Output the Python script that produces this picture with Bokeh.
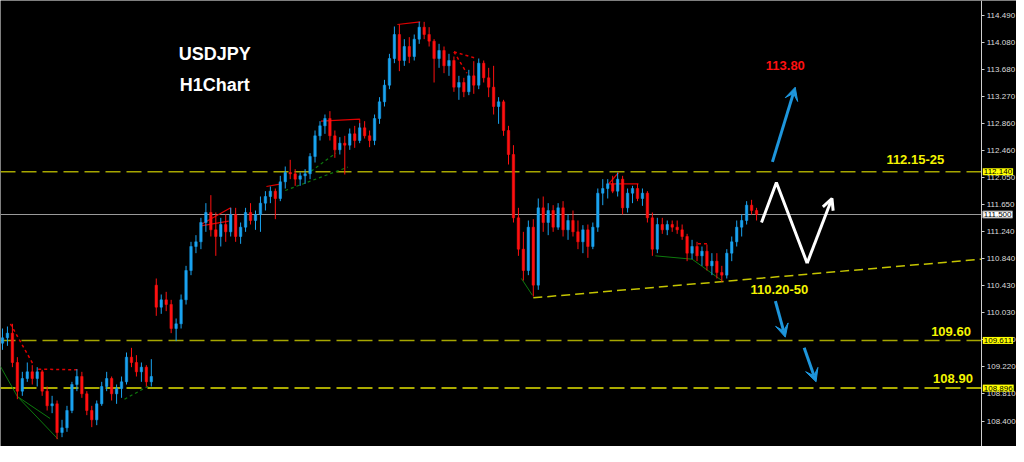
from bokeh.plotting import figure
from bokeh.models import (ColumnDataSource, Range1d, FixedTicker, Label, Arrow,
                          VeeHead, OpenHead, NumeralTickFormatter)
from bokeh.embed import file_html
from bokeh.resources import INLINE

# ---------------- data (USDJPY H1) ----------------
opens = [109.57, 109.65, 109.72, 109.28, 108.85, 109.04, 109.14, 109.04, 109.14, 108.85,
         108.63, 108.66, 108.23, 108.30, 108.56, 108.95, 109.07, 108.81, 108.56, 108.42,
         108.66, 108.92, 109.04, 108.81, 108.89, 108.99, 109.36, 109.28, 109.14, 109.21,
         108.99, 110.44, 110.11, 110.22, 110.15, 109.79, 109.86, 110.22, 110.66, 111.02,
         111.09, 111.38, 111.53, 111.27, 111.17, 111.35, 111.24, 111.50, 111.17, 111.31,
         111.53, 111.41, 111.50, 111.67, 111.77, 111.85, 111.74, 111.99, 112.13, 112.11,
         112.03, 112.08, 112.11, 112.37, 112.68, 112.83, 112.94, 112.68, 112.47, 112.57,
         112.54, 112.71, 112.61, 112.80, 112.68, 112.61, 112.94, 113.19, 113.44, 113.84,
         114.20, 113.81, 114.02, 113.87, 114.13, 114.31, 114.20, 114.10, 113.84, 113.96,
         113.73, 113.81, 113.41, 113.48, 113.34, 113.58, 113.44, 113.77, 113.55, 113.41,
         113.12, 113.19, 112.76, 112.40, 111.45, 110.98, 110.66, 111.31, 110.44, 111.60,
         111.38, 111.56, 111.31, 111.60, 111.27, 111.41, 111.24, 111.09, 111.27, 111.02,
         111.31, 111.82, 111.89, 111.96, 111.85, 112.03, 111.60, 111.82, 111.89, 111.74,
         111.82, 111.45, 110.98, 111.35, 111.27, 111.35, 111.31, 111.27, 111.17, 110.92,
         111.02, 110.88, 110.95, 110.73, 110.80, 110.63, 110.59, 110.92, 111.09, 111.31,
         111.41, 111.64, 111.56]
highs = [109.79, 109.82, 109.86, 109.36, 109.14, 109.28, 109.24, 109.21, 109.17, 108.92,
         108.78, 108.71, 108.42, 108.63, 108.99, 109.18, 109.14, 108.85, 108.63, 108.71,
         108.99, 109.14, 109.07, 108.95, 109.07, 109.43, 109.50, 109.39, 109.28, 109.24,
         109.33, 110.54, 110.30, 110.34, 110.22, 109.94, 110.30, 110.73, 111.09, 111.19,
         111.45, 111.67, 111.79, 111.53, 111.45, 111.50, 111.60, 111.60, 111.38, 111.60,
         111.67, 111.56, 111.77, 111.85, 111.92, 111.89, 112.08, 112.22, 112.32, 112.18,
         112.13, 112.18, 112.42, 112.76, 112.90, 113.00, 113.05, 112.76, 112.66, 112.68,
         112.79, 112.83, 112.87, 112.90, 112.76, 113.00, 113.26, 113.52, 113.91, 114.32,
         114.35, 114.13, 114.16, 114.20, 114.39, 114.39, 114.31, 114.13, 114.06, 114.02,
         113.91, 113.87, 113.58, 113.55, 113.67, 113.80, 113.84, 113.81, 113.70, 113.73,
         113.26, 113.22, 112.83, 112.54, 111.60, 111.24, 111.41, 111.43, 111.74, 111.77,
         111.67, 111.64, 111.67, 111.70, 111.50, 111.56, 111.41, 111.34, 111.35, 111.38,
         111.89, 112.03, 112.03, 112.08, 112.13, 112.08, 111.89, 111.93, 111.96, 111.89,
         111.85, 111.53, 111.45, 111.45, 111.41, 111.41, 111.41, 111.35, 111.21, 111.12,
         111.09, 111.02, 111.05, 110.92, 110.92, 110.73, 110.98, 111.17, 111.41, 111.50,
         111.70, 111.72, 111.60]
lows = [109.47, 109.53, 109.21, 108.73, 108.78, 108.99, 108.95, 108.92, 108.78, 108.56,
        108.52, 108.13, 108.16, 108.24, 108.52, 108.85, 108.75, 108.49, 108.31, 108.34,
        108.63, 108.85, 108.71, 108.66, 108.75, 108.95, 109.21, 109.07, 108.99, 108.92,
        108.92, 109.98, 110.01, 110.05, 109.72, 109.60, 109.79, 110.15, 110.59, 110.92,
        110.98, 111.24, 111.17, 110.88, 111.02, 111.09, 111.17, 111.09, 111.06, 111.24,
        111.35, 111.27, 111.24, 111.56, 111.67, 111.43, 111.70, 111.89, 112.03, 111.93,
        111.93, 111.96, 112.03, 112.28, 112.61, 112.71, 112.61, 112.35, 112.40, 112.10,
        112.47, 112.50, 112.57, 112.64, 112.51, 112.54, 112.86, 113.12, 113.38, 113.77,
        113.65, 113.73, 113.77, 113.81, 114.06, 114.13, 114.02, 113.48, 113.70, 113.62,
        113.58, 113.34, 113.22, 113.26, 113.29, 113.31, 113.38, 113.48, 113.26, 113.00,
        112.86, 112.68, 112.25, 111.38, 110.88, 110.51, 110.59, 110.27, 110.37, 111.24,
        111.19, 111.24, 111.27, 111.17, 111.12, 111.17, 110.98, 110.92, 110.85, 110.98,
        111.24, 111.64, 111.74, 111.82, 111.77, 111.50, 111.53, 111.67, 111.70, 111.63,
        111.38, 110.88, 110.92, 111.21, 111.19, 111.24, 111.21, 111.12, 110.80, 110.83,
        110.80, 110.73, 110.66, 110.59, 110.54, 110.49, 110.54, 110.80, 111.02, 111.17,
        111.35, 111.50, 111.41]
closes = [109.65, 109.72, 109.28, 108.85, 109.04, 109.14, 109.04, 109.14, 108.85, 108.63,
          108.66, 108.23, 108.30, 108.56, 108.95, 109.07, 108.81, 108.56, 108.42, 108.66,
          108.92, 109.04, 108.81, 108.89, 108.99, 109.36, 109.28, 109.14, 109.21, 108.99,
          109.07, 110.11, 110.22, 110.15, 109.79, 109.86, 110.22, 110.66, 111.02, 111.09,
          111.38, 111.53, 111.27, 111.17, 111.35, 111.24, 111.50, 111.17, 111.31, 111.53,
          111.41, 111.50, 111.67, 111.77, 111.85, 111.74, 111.99, 112.13, 112.11, 112.03,
          112.08, 112.11, 112.37, 112.68, 112.83, 112.94, 112.68, 112.47, 112.57, 112.54,
          112.71, 112.61, 112.80, 112.68, 112.61, 112.94, 113.19, 113.44, 113.84, 114.20,
          113.81, 114.02, 113.87, 114.13, 114.31, 114.20, 114.10, 113.84, 113.96, 113.73,
          113.81, 113.41, 113.48, 113.34, 113.58, 113.44, 113.77, 113.55, 113.41, 113.12,
          113.19, 112.76, 112.40, 111.45, 110.98, 110.66, 111.31, 110.44, 111.60, 111.38,
          111.56, 111.31, 111.60, 111.27, 111.41, 111.24, 111.09, 111.27, 111.02, 111.31,
          111.82, 111.89, 111.96, 111.85, 112.03, 111.60, 111.82, 111.89, 111.74, 111.82,
          111.45, 110.98, 111.35, 111.27, 111.35, 111.31, 111.27, 111.17, 110.92, 111.02,
          110.88, 110.95, 110.73, 110.80, 110.63, 110.59, 110.92, 111.09, 111.31, 111.41,
          111.64, 111.56, 111.50]

tick_values = [114.49, 114.08, 113.68, 113.27, 112.86, 112.46, 112.05, 111.65, 111.24,
               110.84, 110.43, 110.03, 109.63, 109.22, 108.81, 108.40]

level_values = [112.140, 109.611, 108.896]
level_labels = ["112.140", "109.611", "108.896"]
level_colors = ["#a6a600", "#a6a600", "#e2e200"]
last_price = 111.50
last_label = "111.500"

# ZigZag swing lines (candle index, price)
zz_red_solid_xs = [[40, 46, 46], [40, 45.6], [53.2, 56.2], [64.2, 72, 72], [79.6, 84.2],
                   [122.2, 124.2], [122.2, 128.2]]
zz_red_solid_ys = [[111.35, 111.60, 111.38], [111.33, 111.40], [111.92, 111.96],
                   [112.90, 112.93, 112.68], [114.35, 114.39], [111.96, 112.13], [111.96, 111.96]]
zz_red_dot_xs = [[1.6, 6.2], [7.2, 15.6], [91, 95.6], [91, 93.6], [140.2, 142.2]]
zz_red_dot_ys = [[109.86, 109.25], [109.18, 109.17], [113.94, 113.84], [113.94, 113.62],
                 [111.06, 111.06]]
zz_green_solid_xs = [[-0.4, 3], [3, 9.6], [3, 11.2], [104.6, 106.8], [131.6, 139, 145]]
zz_green_solid_ys = [[109.22, 108.77], [108.77, 108.44], [108.77, 108.13], [110.54, 110.29],
                     [110.88, 110.83, 110.51]]
zz_green_dot_xs = [[24.6, 30], [57, 69.6], [62.2, 67.2]]
zz_green_dot_ys = [[108.73, 108.95], [111.86, 112.21], [112.15, 112.42]]

trend_y = [110.25, 110.83]
trend_start = 107

# scenario path (white zig-zag)
path_x = [153, 156, 162.2, 167.2]
path_y = [111.38, 111.98, 110.77, 111.74]

BLUE = "#1aa3f0"
RED = "#ff1010"
ARROW_BLUE = "#1e96dc"
YELLOW = "#f4f400"

X_START, X_AXIS, X_END = -0.4, 197.4, 204.4   # left edge, price-axis position, right edge

# ---------------- figure ----------------
idx = list(range(len(closes)))
colors = [BLUE if c >= o else RED for o, c in zip(opens, closes)]
body_top = [max(o, c) for o, c in zip(opens, closes)]
body_bot = [min(o, c) for o, c in zip(opens, closes)]
src = ColumnDataSource(dict(x=idx, o=opens, h=highs, l=lows, c=closes,
                            top=body_top, bot=body_bot, color=colors))

p = figure(width=1016, height=446, output_backend="svg", toolbar_location=None,
           x_range=Range1d(X_START, X_END), y_range=Range1d(108.02, 114.71),
           x_axis_location=None, y_axis_location="right",
           min_border_left=0, min_border_top=0, min_border_bottom=0, min_border_right=0,
           background_fill_color="black", border_fill_color="black", outline_line_color=None)
p.grid.visible = False

ax = p.yaxis[0]
ax.fixed_location = X_AXIS
ax.ticker = FixedTicker(ticks=tick_values)
ax.formatter = NumeralTickFormatter(format="0.000")
ax.axis_line_color = "#cfcfcf"
ax.major_tick_line_color = "#cfcfcf"
ax.major_tick_out = 3
ax.major_tick_in = 0
ax.minor_tick_line_color = None
ax.major_label_text_color = "#dcdcdc"
ax.major_label_text_font = "Liberation Sans"
ax.major_label_text_font_size = "8px"
ax.major_label_standoff = 2

# level lines (stop at the price axis)
for lv, col in zip(level_values, level_colors):
    p.line([X_START, X_AXIS], [lv, lv], line_color=col, line_width=1.5, line_dash="15 6")
p.line([X_START, X_AXIS], [last_price, last_price], line_color="#9a9a9a", line_width=1)

# trend line
p.line([trend_start, X_AXIS], trend_y, line_color="#c4c400", line_width=1.5, line_dash="9 5")

# zigzag lines
p.multi_line(zz_green_solid_xs, zz_green_solid_ys, line_color="#0d7a0d", line_width=1)
p.multi_line(zz_green_dot_xs, zz_green_dot_ys, line_color="#0d7a0d", line_width=1.2,
             line_dash="3 3")
p.multi_line(zz_red_solid_xs, zz_red_solid_ys, line_color="#e00000", line_width=1.2)
p.multi_line(zz_red_dot_xs, zz_red_dot_ys, line_color="#e00000", line_width=1.5,
             line_dash="3 3")

# candles
p.segment(x0="x", y0="h", x1="x", y1="l", source=src, line_color="color", line_width=1)
p.vbar(x="x", width=0.5, top="top", bottom="bot", source=src, fill_color="color",
       line_color="color", line_width=0.5)

# scenario arrows
p.line(path_x[:3], path_y[:3], line_color="white", line_width=3)
p.add_layout(Arrow(end=OpenHead(size=11, line_color="white", line_width=3),
                   x_start=path_x[2], y_start=path_y[2], x_end=path_x[3], y_end=path_y[3],
                   line_color="white", line_width=3))
for (xs, ys, xe, ye) in [(155.2, 112.29, 159.8, 113.41),
                         (155.8, 110.20, 157.8, 109.66),
                         (161.6, 109.50, 164.0, 108.99)]:
    p.add_layout(Arrow(end=VeeHead(size=13, fill_color=ARROW_BLUE, line_color=ARROW_BLUE),
                       x_start=xs, y_start=ys, x_end=xe, y_end=ye,
                       line_color=ARROW_BLUE, line_width=3))

# texts
def txt(x, y, s, color, size):
    p.add_layout(Label(x=x, y=y, text=s, text_color=color, text_font="Liberation Sans",
                       text_font_style="bold", text_font_size=size,
                       text_align="center", text_baseline="middle"))

txt(42.8, 113.91, "USDJPY", "white", "18px")
txt(42.8, 113.44, "H1Chart", "white", "18px")
txt(157.8, 113.73, "113.80", "#ff1010", "13px")
txt(184.0, 112.32, "112.15-25", YELLOW, "13px")
txt(156.6, 110.37, "110.20-50", YELLOW, "13px")
txt(191.2, 109.75, "109.60", YELLOW, "13px")
txt(191.6, 109.04, "108.90", YELLOW, "13px")

# price tags on the axis
for lv, lab in zip(level_values, level_labels):
    p.add_layout(Label(x=X_AXIS, y=lv, x_offset=1, text=lab,
                       text_color="black", text_font="Liberation Sans", text_font_size="8px",
                       text_baseline="middle", background_fill_color="#ffff00", padding=1))
p.add_layout(Label(x=X_AXIS, y=last_price, x_offset=1, text=last_label,
                   text_color="black", text_font="Liberation Sans", text_font_size="8px",
                   text_baseline="middle", background_fill_color="white",
                   border_line_color="#888888", padding=1))

open("out.html", "w").write(file_html(p, INLINE))
